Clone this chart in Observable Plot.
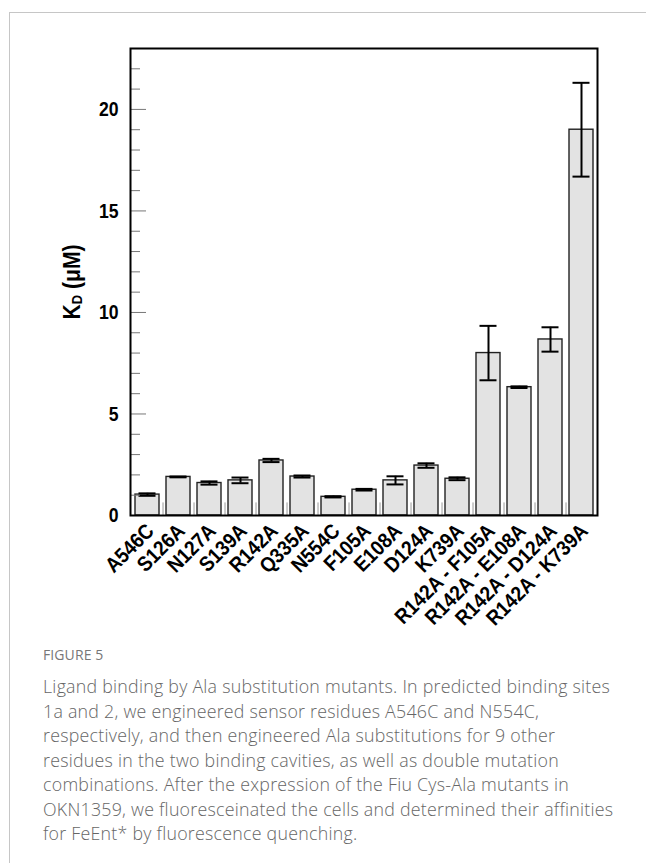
<!DOCTYPE html>
<html><head><meta charset="utf-8">
<script src="https://cdn.jsdelivr.net/npm/d3@7"></script>
<script src="https://cdn.jsdelivr.net/npm/@observablehq/plot@0.6"></script>
<style>
html,body{margin:0;padding:0;background:#fff;width:646px;height:863px;overflow:hidden;position:relative}
#card{position:absolute;left:9px;top:12px;width:700px;height:900px;border:1px solid #c6c6c6;box-sizing:border-box}
#chart{position:absolute;left:0;top:0}
#chart svg{font-family:"Liberation Sans",Arial,sans-serif;background:transparent;color:#000}
#chart svg text{font-weight:bold}
#fig{position:absolute;left:43px;top:645px;font-family:"Open Sans",sans-serif;font-size:14px;line-height:19px;color:#777;letter-spacing:0.1px}
#cap{position:absolute;left:43px;top:674px;font-family:"Open Sans",sans-serif;font-weight:300;font-size:17.8px;letter-spacing:0.25px;line-height:24.5px;color:#666;white-space:nowrap}
</style></head><body>
<div id="card"></div>
<div id="chart"></div>
<div id="fig">FIGURE 5</div>
<div id="cap"></div>
<script>
const names = ["A546C","S126A","N127A","S139A","R142A","Q335A","N554C","F105A","E108A","D124A","K739A","R142A - F105A","R142A - E108A","R142A - D124A","R142A - K739A"];
const kd  = [1.03, 1.90, 1.60, 1.73, 2.71, 1.92, 0.92, 1.27, 1.73, 2.46, 1.81, 8.00, 6.32, 8.67, 19.00];
const err = [0.06, 0.02, 0.08, 0.14, 0.08, 0.05, 0.03, 0.04, 0.20, 0.11, 0.07, 1.34, 0.04, 0.60, 2.31];
const yMajor = [0, 5, 10, 15, 20];
const yMinor = [1, 2, 3, 4, 6, 7, 8, 9, 11, 12, 13, 14, 16, 17, 18, 19, 21, 22];
const captionTitle = "FIGURE 5";
const captionLines = [
  "Ligand binding by Ala substitution mutants. In predicted binding sites",
  "1a and 2, we engineered sensor residues A546C and N554C,",
  "respectively, and then engineered Ala substitutions for 9 other",
  "residues in the two binding cavities, as well as double mutation",
  "combinations. After the expression of the Fiu Cys-Ala mutants in",
  "OKN1359, we fluoresceinated the cells and determined their affinities",
  "for FeEnt* by fluorescence quenching."
];

const W = 646, H = 640, ML = 130, MR = 49, MT = 48, MB = 125;
const pIn = 0.228, pOut = 0.138;
const step = (W - ML - MR) / (names.length - pIn + 2 * pOut);
const data = names.map((name, i) => ({name, kd: kd[i], lo: kd[i] - err[i], hi: kd[i] + err[i]}));

const plot = Plot.plot({
  width: W, height: H,
  marginLeft: ML, marginRight: MR, marginTop: MT, marginBottom: MB,
  x: {domain: names, paddingInner: pIn, paddingOuter: pOut, label: null},
  y: {domain: [0, 23], label: null},
  marks: [
    Plot.barY(data, {x: "name", y: "kd", fill: "#e3e3e3", stroke: "#222", strokeWidth: 1.4}),
    Plot.ruleX(data, {x: "name", y1: "lo", y2: "hi", stroke: "#000", strokeWidth: 2}),
    Plot.tickY(data, {x: "name", y: "lo", insetLeft: 3.5, insetRight: 3.5, stroke: "#000", strokeWidth: 2}),
    Plot.tickY(data, {x: "name", y: "hi", insetLeft: 3.5, insetRight: 3.5, stroke: "#000", strokeWidth: 2}),
    Plot.tickY(yMinor, {y: d => d, insetRight: W - ML - MR - 10, stroke: "#777", strokeWidth: 1}),
    Plot.tickY(yMajor.filter(d => d > 0), {y: d => d, insetRight: W - ML - MR - 16, stroke: "#777", strokeWidth: 1}),
    Plot.ruleX(names.slice(0, -1), {x: d => d, dx: step / 2, y1: 0, y2: 0.62, stroke: "#999", strokeWidth: 1}),
    Plot.axisY(yMajor, {tickSize: 0, tickPadding: 12, fontSize: 21, label: null, ariaLabel: "y-axis"}),
    Plot.axisX({tickSize: 0, tickPadding: 12, dx: 3, tickRotate: -45, fontSize: 21, label: null, ariaLabel: "x-axis"}),
    Plot.frame({stroke: "#000", strokeWidth: 2})
  ]
});

// condense the bold axis lettering along its own baseline (narrow typeface look)
function condense(sel, s) {
  sel.each(function() {
    const tr = this.getAttribute("transform") || "";
    const xa = this.getAttribute("x");
    if (xa !== null && !isNaN(+xa)) this.setAttribute("x", +xa / s);
    this.setAttribute("transform", `${tr} scale(${s},1)`);
  });
}
const svg = d3.select(plot);
condense(svg.selectAll('g[aria-label="y-axis tick label"] text, g[aria-label="y-axis"] text'), 0.84);
condense(svg.selectAll('g[aria-label="x-axis tick label"] text, g[aria-label="x-axis"] text'), 0.9);

const t = svg.append("text")
  .attr("transform", "translate(80,282) rotate(-90) scale(0.92,1)")
  .attr("text-anchor", "middle")
  .attr("font-size", 23)
  .attr("font-weight", "bold")
  .attr("fill", "#000");
t.append("tspan").text("K");
t.append("tspan").attr("font-size", 14).attr("dy", 2).text("D");
t.append("tspan").attr("dy", -2).text(" (\u03BCM)");

document.getElementById("chart").appendChild(plot);
document.getElementById("fig").textContent = captionTitle;
const cap = document.getElementById("cap");
captionLines.forEach(l => { const d = document.createElement("div"); d.textContent = l; cap.appendChild(d); });
</script>
</body></html>
